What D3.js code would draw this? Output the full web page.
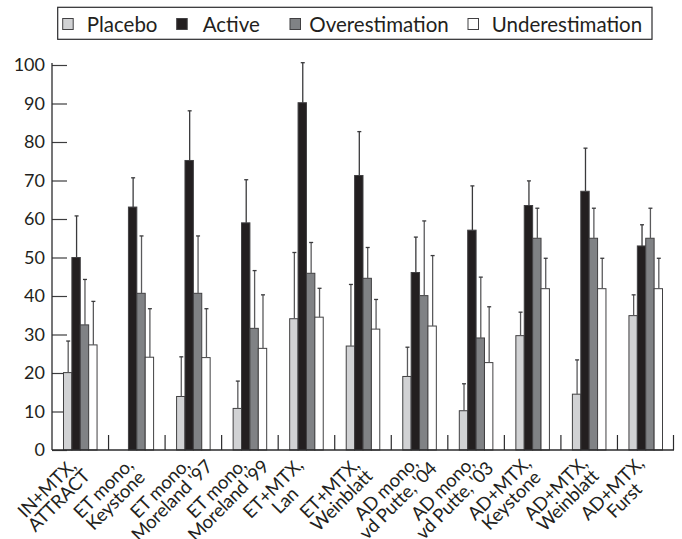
<!DOCTYPE html>
<html>
<head>
<meta charset="utf-8">
<script src="https://cdn.jsdelivr.net/npm/d3@7"></script>
<style>
  html, body { margin: 0; padding: 0; background: #fff; }
  svg { display: block; }
  text { font-family: Lato, "DejaVu Sans", sans-serif; fill: #231f20; }
</style>
</head>
<body>
<svg id="chart" width="682" height="539"></svg>
<script>
// ---------- data ----------
const categories = [
  ["IN+MTX,", "ATTRACT"],
  ["ET mono,", "Keystone"],
  ["ET mono,", "Moreland '97"],
  ["ET mono,", "Moreland '99"],
  ["ET+MTX,", "Lan"],
  ["ET+MTX,", "Weinblatt"],
  ["AD mono,", "vd Putte, '04"],
  ["AD mono,", "vd Putte, '03"],
  ["AD+MTX,", "Keystone"],
  ["AD+MTX,", "Weinblatt"],
  ["AD+MTX,", "Furst"]
];
const seriesNames = ["Placebo", "Active", "Overestimation", "Underestimation"];
const placebo    = [20.1, null, 13.9, 10.8, 34.1, 27.0, 19.1, 10.2, 29.7, 14.5, 34.9];
const placeboErr = [28.3, null, 24.2, 17.9, 51.3, 43.0, 26.7, 17.2, 35.8, 23.4, 40.3];
const active     = [50.0, 63.1, 75.2, 59.0, 90.2, 71.3, 46.1, 57.1, 63.5, 67.2, 53.0];
const activeErr  = [60.8, 70.7, 88.1, 70.2, 100.6, 82.7, 55.3, 68.6, 69.9, 78.4, 58.5];
const over       = [32.5, 40.7, 40.7, 31.6, 45.9, 44.6, 40.1, 29.1, 55.0, 55.0, 55.0];
const overErr    = [44.3, 55.6, 55.6, 46.6, 53.9, 52.6, 59.5, 44.9, 62.8, 62.8, 62.8];
const under      = [27.3, 24.1, 24.0, 26.4, 34.5, 31.4, 32.2, 22.7, 41.9, 41.9, 41.9];
const underErr   = [38.6, 36.7, 36.7, 40.3, 42.0, 39.1, 50.5, 37.2, 49.8, 49.8, 49.8];
const yTicks = [0, 10, 20, 30, 40, 50, 60, 70, 80, 90, 100];

(function () {
// ---------- styles ----------
const colors = ["#d1d2d4", "#231f20", "#808285", "#ffffff"];
const values = [placebo, active, over, under];
const errs = [placeboErr, activeErr, overErr, underErr];

const svg = d3.select("#chart");
svg.append("rect").attr("width", 682).attr("height", 539).attr("fill", "#fff");

const mLeft = 52, mRight = 674, mTop = 65, mBottom = 450;
const catIdx = categories.map((d, i) => i);

const x0 = d3.scaleBand().domain(catIdx).range([mLeft, mRight]).paddingInner(0).paddingOuter(0);
const x1 = d3.scaleBand().domain(seriesNames).range([0, x0.bandwidth()]).paddingInner(0).paddingOuter(1.37);
const y = d3.scaleLinear().domain([0, 100]).range([mBottom, mTop]);

// y axis ticks
const yAxis = d3.axisRight(y).tickValues(yTicks).tickSize(15).tickFormat("");
const ya = svg.append("g").attr("transform", `translate(${mLeft},0)`).call(yAxis);
ya.select(".domain").remove();
ya.selectAll(".tick line").attr("stroke", "#3d3d3f").attr("stroke-width", 1.2);

svg.append("g").selectAll("text").data(yTicks).join("text")
  .attr("x", mLeft - 7).attr("y", d => y(d)).attr("dy", "0.36em")
  .attr("text-anchor", "end").attr("font-size", 18).text(d => d);

// bars
const groups = svg.append("g").selectAll("g").data(catIdx).join("g")
  .attr("transform", i => `translate(${x0(i)},0)`);

seriesNames.forEach((s, si) => {
  groups.filter(i => values[si][i] != null).append("rect")
    .attr("x", x1(s)).attr("width", x1.bandwidth())
    .attr("y", i => y(values[si][i]))
    .attr("height", i => y(0) - y(values[si][i]))
    .attr("fill", colors[si]).attr("stroke", "#414042").attr("stroke-width", 1);
});

// error bars
seriesNames.forEach((s, si) => {
  const g = groups.filter(i => values[si][i] != null && errs[si][i] != null);
  const cxb = x1(s) + x1.bandwidth() / 2 + 0.5;
  g.append("line")
    .attr("x1", cxb).attr("x2", cxb)
    .attr("y1", i => y(values[si][i])).attr("y2", i => y(errs[si][i]))
    .attr("stroke", si === 1 ? "#3a3a3c" : "#5a5a5c").attr("stroke-width", 1.3);
  g.append("line")
    .attr("x1", cxb - 2).attr("x2", cxb + 2)
    .attr("y1", i => y(errs[si][i])).attr("y2", i => y(errs[si][i]))
    .attr("stroke", "#3a3a3c").attr("stroke-width", 1.3);
});

// axis lines
svg.append("line").attr("x1", mLeft).attr("x2", mLeft).attr("y1", mTop - 2).attr("y2", mBottom)
  .attr("stroke", "#2b2b2d").attr("stroke-width", 1.3);
svg.append("line").attr("x1", mLeft).attr("x2", mRight).attr("y1", mBottom).attr("y2", mBottom)
  .attr("stroke", "#2b2b2d").attr("stroke-width", 1.3);

// group separator ticks
const sepX = catIdx.slice(1).map(i => x0(i)).concat([mRight - 0.5]);
svg.append("g").selectAll("line").data(sepX).join("line")
  .attr("x1", d => d).attr("x2", d => d).attr("y1", mBottom).attr("y2", mBottom - 15)
  .attr("stroke", "#2b2b2d").attr("stroke-width", 1.2);

// x labels
const xl = svg.append("g").selectAll("text").data(catIdx).join("text")
  .attr("transform", i => `translate(${x0(i) + x0.bandwidth() / 2 - 29},${493}) rotate(-45)`)
  .attr("text-anchor", "middle").attr("font-size", 18.5).attr("letter-spacing", -0.2);
xl.append("tspan").attr("x", 0).attr("dy", 0).text(i => categories[i][0]);
xl.append("tspan").attr("x", 0).attr("dy", 17).text(i => categories[i][1]);

// legend
const lg = svg.append("g");
lg.append("rect").attr("x", 57.7).attr("y", 7.3).attr("width", 594.3).attr("height", 32)
  .attr("fill", "#fff").attr("stroke", "#2b2b2d").attr("stroke-width", 1.2);
const swX = [62.7, 176.7, 290, 468];
const txX = [86.7, 202.7, 309.3, 491.7];
seriesNames.forEach((s, si) => {
  lg.append("rect").attr("x", swX[si]).attr("y", 18.5).attr("width", 10.5).attr("height", 11)
    .attr("fill", colors[si]).attr("stroke", "#414042").attr("stroke-width", 1);
  lg.append("text").attr("x", txX[si]).attr("y", 31.5).attr("font-size", 20.5).text(s);
});
})();
</script>
</body>
</html>
